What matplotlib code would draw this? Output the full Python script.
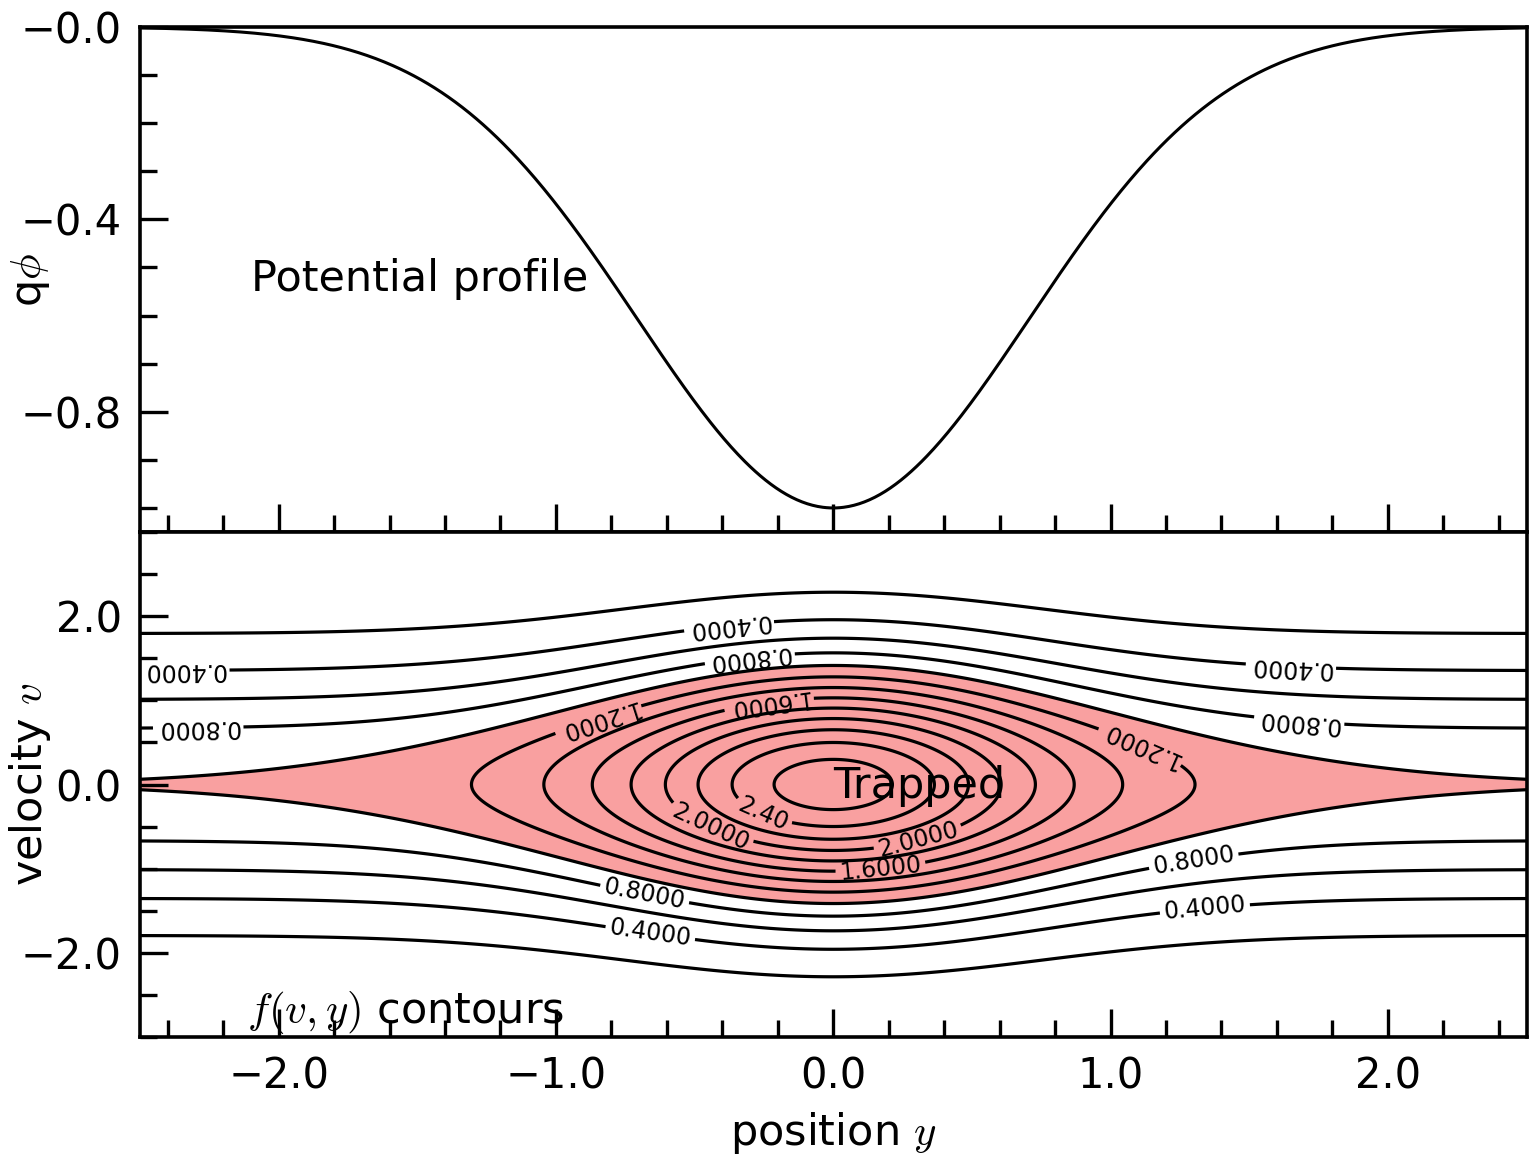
import numpy as np
import matplotlib
matplotlib.use("Agg")
import matplotlib.pyplot as plt
from matplotlib.ticker import MultipleLocator

plt.rcParams["mathtext.fontset"] = "cm"

# potential well: gaussian, depth 1 at y=0, width 1
well_depth = 1.0
well_width = 1.0

# f(v,y) contour levels and the labelled ones
f_levels = [0.2, 0.4, 0.6, 0.8, 1.0, 1.2, 1.4, 1.6, 1.8, 2.0, 2.2, 2.4, 2.6]
label_levels = [0.4, 0.8, 1.2, 1.6, 2.0, 2.4]
label_text = ["0.4000", "0.8000", "1.2000", "1.6000", "2.0000", "2.40"]
label_spots = [(-0.375, 1.86), (-2.34, 1.32), (1.65, 1.37),
               (-0.30, 1.47), (-2.29, 0.67), (1.68, 0.74),
               (-0.85, 0.80), (1.10, 0.40),
               (-0.23, 0.93), (0.17, -0.98),
               (-0.44, -0.49), (0.30, -0.58),
               (-0.26, -0.41),
               (-0.68, -1.30), (1.30, -0.91),
               (-0.66, -1.77), (1.34, -1.47)]

x_ticks = [-2.0, -1.0, 0.0, 1.0, 2.0]
x_ticklabels = ["\u22122.0", "\u22121.0", "0.0", "1.0", "2.0"]
phi_ticks = [0.0, -0.4, -0.8]
phi_ticklabels = ["\u22120.0", "\u22120.4", "\u22120.8"]
v_ticks = [2.0, 0.0, -2.0]
v_ticklabels = ["2.0", "0.0", "\u22122.0"]

pink = "#f9a0a0"

y = np.linspace(-2.5, 2.5, 801)
v = np.linspace(-3.0, 3.0, 801)
qphi = -well_depth * np.exp(-(y / well_width) ** 2)
Y, V = np.meshgrid(y, v)
energy = 0.5 * V ** 2 + qphi[None, :]
f = np.exp(-energy)

fs = 30     # tick labels
fs_txt = 31  # labels and annotations
fig = plt.figure(figsize=(15.38, 11.67), dpi=100)
left, width = 140 / 1538, 1386.5 / 1538
ax1 = fig.add_axes([left, 1 - 532 / 1167, width, 505 / 1167])
ax2 = fig.add_axes([left, 1 - 1037 / 1167, width, 505 / 1167])

# top panel: potential
ax1.plot(y, qphi, color="black", lw=2.2)
ax1.set_xlim(-2.5, 2.5)
ax1.set_ylim(-1.05, 0.0)
ax1.set_yticks(phi_ticks)
ax1.set_yticklabels(phi_ticklabels)
ax1.yaxis.set_minor_locator(MultipleLocator(0.1))
ax1.xaxis.set_major_locator(MultipleLocator(1.0))
ax1.xaxis.set_minor_locator(MultipleLocator(0.2))
ax1.tick_params(labelbottom=False)
ax1.text(-2.10, -0.525, "Potential profile", fontsize=fs_txt, ha="left", va="center")

# bottom panel: phase space contours
ax2.contourf(Y, V, f, levels=[1.0, 10.0], colors=[pink])
plain_levels = [lv for lv in f_levels if lv not in label_levels]
ax2.contour(Y, V, f, levels=plain_levels, colors="black", linewidths=2.3)
cs = ax2.contour(Y, V, f, levels=label_levels, colors="black", linewidths=2.3)
ax2.clabel(cs, fmt=dict(zip(label_levels, label_text)),
           manual=label_spots, fontsize=17, inline=True, inline_spacing=4,
           rightside_up=False)
ax2.set_xlim(-2.5, 2.5)
ax2.set_ylim(-3.0, 3.0)
ax2.set_xticks(x_ticks)
ax2.set_xticklabels(x_ticklabels)
ax2.xaxis.set_minor_locator(MultipleLocator(0.2))
ax2.set_yticks(v_ticks)
ax2.set_yticklabels(v_ticklabels)
ax2.yaxis.set_minor_locator(MultipleLocator(0.5))
ax2.text(0.0, -0.02, "Trapped", fontsize=fs_txt, ha="left", va="center")
ax2.text(-2.115, -2.71, "$f(v,y)$ contours", fontsize=fs_txt, ha="left", va="center")

for ax in (ax1, ax2):
    for sp in ax.spines.values():
        sp.set_linewidth(2.6)
    ax.tick_params(which="both", direction="in", width=2.4, top=False, right=False,
                   labelsize=fs, pad=13)
    ax.tick_params(which="major", length=20)
    ax.tick_params(which="minor", length=12)

fig.text(30 / 1538, 1 - 280 / 1167, "q$\\phi$", rotation=90, fontsize=fs_txt,
         ha="center", va="center")
fig.text(30 / 1538, 1 - 784 / 1167, "velocity $v$", rotation=90, fontsize=fs_txt,
         ha="center", va="center")
fig.text(834 / 1538, 1 - 1133 / 1167, "position $y$", fontsize=fs_txt,
         ha="center", va="center")

fig.savefig("out.png", dpi=100)
